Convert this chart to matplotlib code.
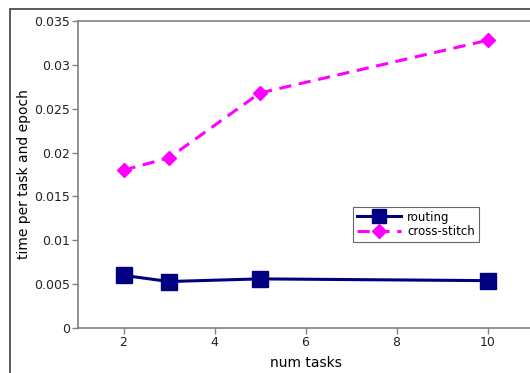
import matplotlib
matplotlib.use("Agg")
import matplotlib.pyplot as plt
from matplotlib.patches import Rectangle
from matplotlib.ticker import FuncFormatter

num_tasks = [2, 3, 5, 10]
routing = [0.0060, 0.0053, 0.0056, 0.0054]
cross_stitch = [0.0180, 0.0194, 0.0268, 0.0328]
x_ticks = [2, 4, 6, 8, 10]
y_ticks = [0, 0.005, 0.01, 0.015, 0.02, 0.025, 0.03, 0.035]

W, H = 530, 373
fig = plt.figure(figsize=(W / 100, H / 100), dpi=100)

# outer frame (extends past the right and bottom edges)
fig.patches.append(Rectangle((10 / W, -0.2), 1.5, (H - 9) / H + 0.2,
                             transform=fig.transFigure, fill=False,
                             edgecolor="#404040", linewidth=1.2))

left, right_px = 78, 533
top, bottom = 21, 328
ax = fig.add_axes([left / W, (H - bottom) / H, (right_px - left) / W, (bottom - top) / H])

ax.plot(num_tasks, routing, color="#000080", linewidth=2.2, marker="s",
        markersize=11, markeredgewidth=1, label="routing", clip_on=False)
ax.plot(num_tasks, cross_stitch, color="#ff00ff", linewidth=2.2, linestyle=(0, (4, 2.5)),
        marker="D", markersize=7.5, label="cross-stitch", clip_on=False)

ax.set_xlim(1, 11)
ax.set_ylim(0, 0.035)
ax.set_xticks(x_ticks)
ax.set_yticks(y_ticks)
ax.yaxis.set_major_formatter(FuncFormatter(lambda v, p: "%g" % v))

for side in ["left", "bottom", "top", "right"]:
    ax.spines[side].set_color("#808080")
    ax.spines[side].set_linewidth(1.2)
ax.tick_params(direction="out", length=4, width=1, color="#808080",
               labelsize=9, labelcolor="#222222", pad=2)

ax.set_xlabel("num tasks", fontsize=10, labelpad=5)
ax.set_ylabel("time per task and epoch", fontsize=10, labelpad=2)

leg = ax.legend(loc="upper left", bbox_to_anchor=(353 / W, (H - 207) / H),
                bbox_transform=fig.transFigure, fontsize=8.5, frameon=True,
                fancybox=False, edgecolor="#404040", borderpad=0.3,
                handlelength=3.8, handletextpad=0.5, labelspacing=0.15,
                borderaxespad=0, markerscale=0.9)
leg.get_frame().set_linewidth(0.8)

fig.savefig("out.png", dpi=100)
